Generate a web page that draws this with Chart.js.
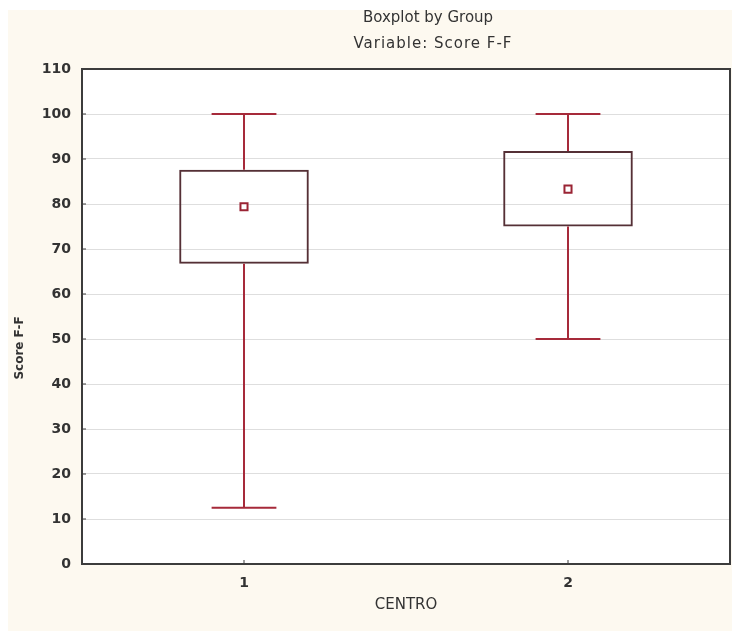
<!DOCTYPE html>
<html>
<head>
<meta charset="utf-8">
<script src="https://cdn.jsdelivr.net/npm/chart.js@4"></script>
<style>
  html, body { margin: 0; padding: 0; background: #ffffff; }
  #wrap { position: absolute; left: 8px; top: 10px; width: 724px; height: 621px; background: #fdf9f0; overflow: hidden; }
  canvas { display: block; }
</style>
</head>
<body>
<div id="wrap"><canvas id="c" width="729" height="621"></canvas></div>
<script>
// ---- data ----
const categories = ['1', '2'];
const q1Values   = [66.7, 75.0];
const q3Values   = [87.6, 91.8];
const minValues  = [12.5, 50.0];
const maxValues  = [100, 100];
const meanValues = [79.4, 83.3];
const yTicks     = [0, 10, 20, 30, 40, 50, 60, 70, 80, 90, 100, 110];
const titleLines = ['Boxplot by Group', 'Variable: Score F-F'];
const yTitle     = 'Score F-F';
const xTitle     = 'CENTRO';

const FONT = 'DejaVu Sans, Verdana, sans-serif';
const boxBorder = '#553036';
const whiskerColor = '#a62a3a';
const meanColor = '#9a2434';
const textColor = '#333333';

const boxPlugin = {
  id: 'boxExtras',
  beforeDraw(chart) {
    const { ctx, chartArea: a } = chart;
    ctx.save();
    ctx.fillStyle = '#ffffff';
    ctx.fillRect(a.left, a.top, a.right - a.left, a.bottom - a.top);
    ctx.restore();
  },
  afterDatasetsDraw(chart) {
    const { ctx } = chart;
    const xs = chart.scales.x, ys = chart.scales.y;
    const meta = chart.getDatasetMeta(0);
    ctx.save();
    ctx.strokeStyle = whiskerColor;
    ctx.lineWidth = 2;
    categories.forEach((c, i) => {
      const bar = meta.data[i];
      const cx = xs.getPixelForValue(i);
      const half = bar.width / 4;
      const yMax = ys.getPixelForValue(maxValues[i]);
      const yMin = ys.getPixelForValue(minValues[i]);
      const yQ3 = ys.getPixelForValue(q3Values[i]);
      const yQ1 = ys.getPixelForValue(q1Values[i]);
      ctx.beginPath();
      ctx.moveTo(cx, yQ3); ctx.lineTo(cx, yMax);
      ctx.moveTo(cx - half, yMax); ctx.lineTo(cx + half, yMax);
      ctx.moveTo(cx, yQ1); ctx.lineTo(cx, yMin);
      ctx.moveTo(cx - half, yMin); ctx.lineTo(cx + half, yMin);
      ctx.stroke();
    });
    ctx.restore();
  },
  afterDraw(chart) {
    const { ctx, chartArea: a } = chart;
    ctx.save();
    ctx.strokeStyle = '#3c3c3c';
    ctx.lineWidth = 2;
    ctx.strokeRect(a.left, a.top, a.right - a.left, a.bottom - a.top);
    ctx.lineWidth = 1;
    ctx.beginPath();
    chart.scales.y.ticks.forEach(t => {
      const py = chart.scales.y.getPixelForValue(t.value);
      ctx.moveTo(a.left, py); ctx.lineTo(a.left + 4, py);
    });
    categories.forEach((c, i) => {
      const px = chart.scales.x.getPixelForValue(i);
      ctx.moveTo(px, a.bottom); ctx.lineTo(px, a.bottom - 4);
    });
    ctx.stroke();
    ctx.fillStyle = textColor;
    ctx.textAlign = 'center';
    ctx.textBaseline = 'middle';
    ctx.font = '15px ' + FONT;
    ctx.fillText(titleLines[0], 420, 8);
    ctx.letterSpacing = '1px';
    ctx.fillText(titleLines[1], 425, 34);
    ctx.letterSpacing = '0px';
    ctx.save();
    ctx.translate(12, 338);
    ctx.rotate(-Math.PI / 2);
    ctx.font = 'bold 12px ' + FONT;
    ctx.fillText(yTitle, 0, 0);
    ctx.restore();
    ctx.restore();
  }
};

new Chart(document.getElementById('c'), {
  data: {
    labels: categories,
    datasets: [
      {
        type: 'bar',
        label: 'Box',
        data: categories.map((c, i) => [q1Values[i], q3Values[i]]),
        backgroundColor: 'rgba(255,255,255,0)',
        borderColor: boxBorder,
        borderWidth: 2,
        borderSkipped: false,
        barPercentage: 0.4,
        categoryPercentage: 1.0,
        order: 2
      },
      {
        type: 'line',
        label: 'Mean',
        data: meanValues,
        showLine: false,
        pointStyle: 'rect',
        pointRadius: 5,
        pointBorderWidth: 2,
        pointBackgroundColor: '#ffffff',
        pointBorderColor: meanColor,
        order: 1
      }
    ]
  },
  options: {
    responsive: false,
    animation: false,
    devicePixelRatio: 1,
    layout: { padding: { top: 59, left: 0, right: 0, bottom: 0 } },
    plugins: {
      legend: { display: false },
      tooltip: { enabled: false },
      title: { display: false }
    },
    scales: {
      x: {
        type: 'category',
        offset: true,
        grid: { display: false, drawTicks: false },
        border: { display: false },
        ticks: {
          color: textColor,
          padding: 11,
          font: { family: FONT, size: 14, weight: 'bold' }
        },
        title: {
          display: true,
          text: xTitle,
          color: textColor,
          font: { family: FONT, size: 15, weight: 'normal' },
          padding: { top: 0, bottom: 17 }
        },
        afterFit(scale) { scale.height = 67; }
      },
      y: {
        type: 'linear',
        min: 0,
        max: 110,
        afterBuildTicks(scale) { scale.ticks = yTicks.map(v => ({ value: v })); },
        grid: { color: '#dedede', lineWidth: 1, drawTicks: false },
        border: { display: false },
        ticks: {
          color: textColor,
          padding: 11,
          font: { family: FONT, size: 14, weight: 'bold' }
        },
        title: { display: false },
        afterFit(scale) { scale.width = 74; }
      }
    }
  },
  plugins: [boxPlugin]
});
</script>
</body>
</html>
